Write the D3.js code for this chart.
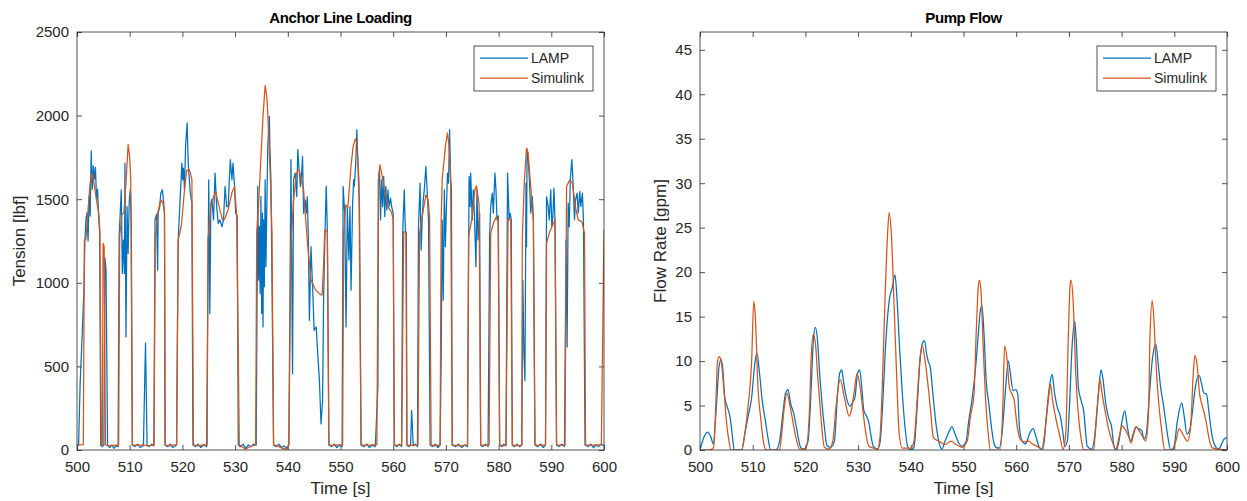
<!DOCTYPE html>
<html>
<head>
<meta charset="utf-8">
<script src="https://cdn.jsdelivr.net/npm/d3@7"></script>
<style>
  html, body { margin: 0; padding: 0; background: #fff; }
  svg { display: block; font-family: "Liberation Sans", Arial, Helvetica, sans-serif; }
</style>
</head>
<body>
<svg id="chart" width="1247" height="501"></svg>
<script>
// ---------- DATA ----------
const xTicks = [500, 510, 520, 530, 540, 550, 560, 570, 580, 590, 600];
const tensionTicks = [0, 500, 1000, 1500, 2000, 2500];
const flowTicks = [0, 5, 10, 15, 20, 25, 30, 35, 40, 45];
const seriesNames = ["LAMP", "Simulink"];

// Anchor line tension [lbf] vs time [s] — [time, value]
const lampTension = [
[500,20],[500.3,30],[500.6,400],[501.0,700],[501.3,950],[501.5,1250],[501.7,1380],[501.9,1420],[502.1,1250],[502.3,1520],[502.5,1400],[502.7,1790],[502.9,1560],[503.1,1700],[503.3,1620],[503.5,1690],[503.7,1500],[503.9,1560],[504.1,1400],[504.3,1300],[504.5,30],[504.8,20],[505.1,30],[505.3,1150],[505.5,1080],[505.8,30],
[506.2,15],[506.6,30],[507.0,10],[507.4,25],[507.8,20],
[508.0,1276],[508.4,1556],[508.6,1056],[508.8,1256],[509.0,1056],[509.1,1716],[509.3,676],[509.5,1456],[509.7,1176],[509.9,1476],[510.1,1556],[510.3,1376],[510.5,30],
[511,20],[511.5,35],[512,15],[512.6,25],[513.0,640],[513.3,30],[513.7,20],[514.2,35],[514.6,25],
[514.8,1376],[515.1,1410],[515.3,1076],[515.4,1416],[515.7,1456],[515.9,1536],[516.2,1556],[516.4,1496],[516.6,1416],[516.7,30],
[517.2,20],[517.7,35],[518.2,15],[518.9,30],
[519.2,1256],[519.5,1456],[519.9,1716],[520.05,1616],[520.2,1686],[520.4,1556],[520.6,1816],[520.9,1956],[521.1,1716],[521.5,1536],[521.8,1476],[522.0,30],
[522.5,20],[523,35],[523.5,15],[524,30],[524.6,20],
[525.0,1616],[525.2,816],[525.4,1476],[525.6,1500],[525.9,1376],[526.2,1656],[526.5,1456],[526.8,1356],[527.1,1376],[527.5,1336],[527.8,1376],[528.1,1576],[528.4,1456],[528.7,1456],[528.9,1616],[529.1,1736],[529.4,1616],[529.6,1716],[529.9,1576],[530.1,1416],[530.4,1400],[530.6,30],
[531,20],[531.5,35],[532,10],[532.5,30],[533,20],[533.5,35],[534.0,30],
[534.3,1576],[534.45,1016],[534.6,1336],[534.75,936],[534.9,1516],[535.05,816],[535.2,1416],[535.3,736],[535.4,1376],[535.55,976],[535.7,1616],[535.85,1096],[536.0,1416],[536.2,1816],[536.5,1996],[536.6,1816],[536.8,1616],[537.0,1016],[537.3,30],
[537.8,20],[538.3,35],[538.8,15],[539.3,25],[539.8,5],[540.2,30],
[540.6,1736],[540.9,456],[541.1,1616],[541.4,1656],[541.7,1516],[541.9,1796],[542.1,1696],[542.4,1576],[542.6,1636],[542.8,1756],[543.0,1416],[543.3,1496],[543.5,1416],[543.7,1516],[543.9,1256],[544.1,776],[544.4,1216],[544.7,976],[545.0,716],[545.4,736],[545.6,616],[546.0,416],[546.3,156],[546.6,296],[546.8,916],[547.1,1356],[547.3,1576],[547.5,1316],[547.8,30],
[548.3,20],[548.8,35],[549.3,15],[549.8,30],[550.3,20],
[550.5,1576],[550.8,1416],[551.05,736],[551.3,1456],[551.6,1136],[551.8,1456],[552.0,956],[552.3,1476],[552.5,1616],[552.6,1576],[552.9,1716],[553.1,1916],[553.4,1616],[553.6,1456],[553.9,30],
[554.4,20],[555,35],[555.5,15],[556,30],[556.6,20],
[557.1,376],[557.2,1616],[557.4,1676],[557.6,1376],[557.8,1616],[558.0,1456],[558.2,1636],[558.4,1396],[558.6,1576],[558.8,1436],[559.0,1556],[559.2,1456],[559.5,1506],[559.7,1456],[560.0,1416],[560.2,30],
[560.7,20],[561.2,35],[561.6,20],
[561.8,1296],[562.1,1556],[562.3,1316],[562.5,1296],[562.6,30],
[563.0,20],[563.3,30],[563.5,236],[563.8,25],[564.2,35],[564.6,20],
[564.8,1336],[565.1,1596],[565.3,1196],[565.5,1376],[565.7,1496],[565.9,1556],[566.2,1696],[566.4,1576],[566.7,1376],[567.0,30],
[567.5,20],[568,35],[568.5,15],[568.9,30],
[569.1,536],[569.2,1016],[569.3,1376],[569.5,896],[569.7,1556],[569.9,1216],[570.1,1456],[570.3,1656],[570.5,1596],[570.7,1916],[570.9,1616],[571.05,1556],[571.2,30],
[571.8,20],[572.4,35],[573,15],[573.6,30],[574.1,20],
[574.4,1636],[574.6,1456],[574.7,1656],[575.0,1376],[575.2,1556],[575.4,1416],[575.7,1096],[575.9,1556],[576.1,1256],[576.4,1416],[576.6,30],
[577,20],[577.5,35],[578,20],
[578.3,1276],[578.5,1456],[578.8,1536],[579.0,1416],[579.3,1656],[579.5,1556],[579.7,1376],[579.95,1400],[580.2,30],
[580.6,20],[581,35],[581.4,25],
[581.7,1656],[582.0,1376],[582.2,1416],[582.4,1380],[582.6,30],
[583,20],[583.5,35],[584,20],[584.4,30],
[584.6,1016],[584.8,576],[585.0,416],[585.2,1596],[585.3,1216],[585.4,1796],[585.6,1756],[585.9,1576],[586.1,1416],[586.4,1516],[586.6,1376],[586.9,30],
[587.4,20],[588,35],[588.5,15],[588.9,30],
[589.1,1516],[589.4,1456],[589.6,1376],[589.9,1556],[590.1,1336],[590.3,1396],[590.5,1566],[590.7,1376],[591.0,30],
[591.5,20],[592,35],[592.5,20],
[592.8,1256],[593.0,616],[593.2,1476],[593.4,1336],[593.6,1616],[593.9,1736],[594.1,1616],[594.4,1376],[594.6,1496],[594.9,1536],[595.1,1416],[595.4,1546],[595.6,1456],[595.9,1536],[596.1,1376],[596.4,30],
[597,20],[597.5,35],[598,15],[598.5,30],[599,20],[599.5,35],[600,25]
];

const simTension = [
[500,30],[501.2,32],[501.4,1256],[501.7,1260],[502.1,1440],[502.5,1600],[502.9,1656],[503.3,1580],[503.7,1496],[504.2,1396],[504.35,1300],[504.6,30],[504.8,30],[504.95,1236],[505.15,1220],[505.4,30],
[506,25],[507,28],[507.9,30],
[508.1,1276],[508.5,1406],[508.9,1420],[509.3,1600],[509.7,1826],[510.0,1750],[510.2,1616],[510.5,30],
[511.5,28],[512.5,30],[513.5,25],[514.6,30],
[514.85,1266],[515.3,1416],[515.9,1496],[516.3,1480],[516.6,1420],[516.75,30],
[517.5,25],[518.3,30],[518.9,30],
[519.2,1256],[519.8,1340],[520.4,1556],[520.8,1670],[521.2,1680],[521.5,1660],[521.8,1616],[522.1,30],
[523,25],[524,30],[524.7,30],
[524.85,1256],[525.4,1466],[526.3,1546],[527.0,1450],[527.6,1376],[528.0,1380],[528.7,1440],[529.4,1540],[529.9,1576],[530.3,1400],[530.8,30],
[531.5,15],[532,5],[532.5,15],[533.9,30],
[534.1,1296],[534.5,1500],[534.9,1750],[535.3,2000],[535.7,2180],[536.0,2120],[536.2,2016],[536.7,1616],[537.0,1300],[537.3,30],
[538,25],[539,10],[539.5,5],[540.2,30],
[540.6,1236],[541.1,1496],[541.6,1640],[541.9,1676],[542.2,1670],[543.0,1556],[543.4,1376],[543.8,1216],[544.4,1016],[545.3,956],[546.0,935],[546.5,926],[546.8,1100],[547.0,1316],[547.5,1306],[547.8,30],
[548.5,28],[549.5,30],[550.4,30],
[550.6,1296],[551.0,1466],[551.4,1450],[552.0,1700],[552.4,1816],[552.8,1860],[553.1,1840],[553.5,1616],[553.9,30],
[555,28],[556,30],[556.9,30],
[557.2,1616],[557.5,1706],[557.9,1640],[558.4,1540],[559.0,1456],[559.7,1420],[560.0,1380],[560.2,30],
[561,28],[561.6,30],
[562.0,1306],[562.4,1300],[562.6,30],
[563.5,28],[564.7,30],
[565.0,1296],[565.6,1416],[566.2,1526],[566.6,1500],[566.9,1400],[567.2,30],
[568,25],[568.9,30],
[569.1,1376],[569.3,1616],[569.9,1816],[570.3,1896],[570.6,1816],[570.9,1616],[571.2,30],
[572.5,25],[574.1,30],
[574.3,1276],[574.9,1376],[575.5,1556],[575.8,1580],[576.3,1470],[576.6,30],
[577.5,28],[578.2,30],
[578.5,1296],[579.0,1356],[579.6,1396],[579.9,1380],[580.2,30],
[581,25],[581.4,30],
[581.8,1386],[582.3,1376],[582.6,30],
[583.5,25],[584.4,30],
[584.5,1276],[584.9,1616],[585.3,1806],[585.6,1776],[586.0,1616],[586.6,1376],[586.9,30],
[588,28],[588.9,30],
[589.1,1236],[589.7,1306],[590.4,1356],[590.7,1376],[591.0,30],
[592,28],[592.6,30],
[592.9,1576],[593.5,1616],[594.0,1596],[594.6,1450],[595.1,1376],[595.8,1366],[596.3,1296],[596.5,30],
[597.5,28],[598.5,30],[599.5,30],[600,1316]
];

// Pump flow rate [gpm] vs time [s] — [time, value]
const lampFlow = [
[500,0],[500.6,1.2],[501.4,2],[502.1,1.4],[502.5,0.7],[503.1,4.8],[503.6,9.3],[504,10.2],[504.3,9.3],[504.7,5.9],[505.2,4.8],[505.7,3.7],[506.1,1.8],[506.5,0],[507.9,0],[508.5,1.8],[509.1,3.7],[509.8,5.9],[510.4,9.7],[510.8,10.9],[511.3,8.6],[511.8,5.6],[512.4,3.3],[513,1],[513.4,0],[514.4,0],[515.1,1],[515.7,4],[516.2,6.3],[516.7,6.8],[517.2,5.2],[517.8,4.1],[518.4,2.2],[519.1,0.3],[519.7,0.1],[520.5,1],[521.1,7],[521.5,12.3],[521.9,13.8],[522.3,12.3],[522.7,8.6],[523.1,5.6],[523.6,2.6],[524.1,0.5],[524.8,0.3],[525.5,1],[526.1,6.3],[526.5,8.6],[526.9,9],[527.2,7.8],[527.9,5.6],[528.5,4.9],[529,5.4],[529.4,5.9],[529.9,8.6],[530.3,9],[530.7,7],[531.1,4.4],[531.6,3.8],[532.1,2.9],[532.4,1.8],[532.9,0.4],[533.7,0.1],[534.2,1],[534.7,5.6],[535.2,11.6],[535.9,16.8],[536.5,18.3],[537,19.7],[537.4,16.8],[537.9,11.2],[538.4,6.3],[538.9,2.6],[539.4,0.4],[540,0],[540.6,0.3],[541.2,4.8],[541.7,9.7],[542.2,12],[542.6,12.3],[543,10.8],[543.3,10],[543.7,9.3],[544.2,6.3],[544.7,3.3],[545.3,1],[545.9,0.1],[546.5,1],[547.2,2],[547.8,2.6],[548.4,1.8],[549,0.9],[549.7,0.4],[550,0.5],[550.5,1],[551,3.3],[551.6,5.6],[552.3,9.3],[552.8,13],[553.2,15.7],[553.5,16.2],[553.9,13],[554.3,7.8],[554.8,5.2],[555.3,2.6],[555.8,0.7],[556.2,0.3],[556.8,0.2],[557.3,1.8],[558,7],[558.5,10],[558.9,8.6],[559.4,6.7],[559.9,6.8],[560.3,6.3],[560.6,2.6],[561.1,1],[561.8,0.7],[562.5,1.8],[563.2,2.4],[563.8,1.4],[564.4,0.3],[565.1,0.1],[565.7,3.7],[566.3,7.1],[566.8,8.5],[567.3,6.3],[567.8,4.8],[568.4,3.7],[568.9,1.8],[569.2,0.4],[569.7,1],[570.1,4.8],[570.6,11.6],[571.1,14.5],[571.4,12.3],[571.8,7],[572.3,5.6],[572.8,4.4],[573.5,0.4],[574.3,0.1],[575.1,2.6],[575.7,7.1],[576.1,9],[576.5,7.8],[577,5.2],[577.5,3.7],[578.1,2.6],[578.6,0.3],[579,0],[579.5,1],[580.1,3.3],[580.6,4.4],[581.1,2.6],[581.7,1],[582.2,1.8],[582.7,2.6],[583.2,2.4],[583.8,2.2],[584.3,1.2],[584.7,1.8],[585.2,5.6],[585.8,10],[586.5,11.9],[587,9.3],[587.4,7.1],[588,4.8],[588.7,1.8],[589.3,0],[589.9,0.3],[590.6,3.3],[591.4,5.3],[591.9,3.7],[592.4,1.8],[592.9,2.2],[593.4,4.1],[594,7.1],[594.7,8.4],[595.2,7.4],[595.6,6.4],[596.1,6.3],[596.6,4.1],[597.1,1.8],[597.7,0.5],[598.4,0.1],[599,0.7],[599.4,1.2],[600,1.4]
];

const simFlow = [
[500,0],[501.6,0],[502.3,0.1],[502.6,0.3],[503.0,5],[503.3,9.8],[503.6,10.5],[504.0,10],[504.6,6.3],[505,3.3],[505.5,1],[505.9,0],[507.9,0],[508.5,1.8],[509.1,4.8],[509.8,10],[510.2,16.7],[510.5,15],[511,7],[511.5,3.7],[512.1,0.7],[512.6,0],[515.1,0],[515.5,1.8],[516,4.8],[516.5,6.4],[517,5.2],[517.6,3.3],[518.2,1.4],[518.9,0.1],[520.1,0.2],[520.8,4.8],[521.1,10.5],[521.5,13],[521.9,12],[522.3,8.6],[522.7,5.6],[523.1,2.6],[523.6,0.3],[524.5,0.1],[525.2,1],[525.8,4.8],[526.6,7.9],[527.4,5.9],[528.3,3.8],[528.7,4.4],[529.2,6.3],[529.8,8.6],[530.4,7],[531,4],[531.6,1.4],[532.1,0.4],[533,0.2],[533.7,0.1],[534.2,1.8],[534.6,7.4],[535.1,16.8],[535.6,24.4],[535.9,26.7],[536.3,24.4],[536.8,16.8],[537.3,8.6],[537.8,1.8],[538.4,0.2],[540,0.2],[540.6,1],[541.2,5.6],[541.7,10],[542.2,11.7],[542.6,10.5],[543.1,8.2],[543.7,4.8],[544.3,1.4],[545.6,0.9],[546.5,0.6],[547.6,1.0],[548.4,0.7],[549.7,0.3],[550.7,1],[551.3,3.7],[552,6.3],[552.4,13],[552.8,18.3],[553,19.1],[553.3,18],[553.7,12.3],[554.2,5.6],[554.7,1.8],[555.1,0],[557,0],[557.5,5.6],[557.8,11.7],[558.3,10],[558.7,7],[559.2,6.3],[559.6,5.6],[560.2,2.6],[560.8,1.2],[561.5,0.9],[562.4,1],[563,0.7],[564,0.4],[564.8,0.1],[565.4,1.8],[566.1,5.6],[566.5,7.4],[566.9,5.6],[567.6,3.3],[568.2,1.8],[568.9,0.1],[569.4,1.8],[569.9,13],[570.2,18.3],[570.4,19.1],[570.8,16.8],[571.3,8.6],[571.9,3.3],[572.4,1],[572.8,0],[574.7,0],[575.2,3.7],[575.6,6.3],[575.9,7.9],[576.3,6.3],[577,4],[577.6,2.2],[578.2,1],[578.9,0.1],[579.5,1.4],[580.1,2.7],[580.8,2.2],[581.4,1.4],[581.8,0.8],[582.3,1.8],[582.8,2.6],[583.3,2.2],[583.9,1.6],[584.6,1],[585.1,4.1],[585.4,13],[585.8,16.8],[586.1,15],[586.5,10],[587,5.6],[587.6,2.2],[588.2,0],[589.6,0],[590.3,1],[590.9,2.4],[591.6,1.8],[592.5,1],[593.1,2.6],[593.6,8.6],[593.9,10.6],[594.3,9.7],[594.8,6.3],[595.4,4.8],[596,3.3],[596.7,1],[597.3,0.2],[598.5,0.1],[600,0]
];

// ---------- DRAWING ----------
const svg = d3.select("#chart");
const colors = { LAMP: "#0072BD", Simulink: "#D95319" };
const textColor = "#262626";
const axisColor = "#262626";

function panel(opts) {
  const { left, right, top, bottom, yMax, yTicks, title, ylabel, ylabelX, series, curve, id } = opts;
  const x = d3.scaleLinear().domain([500, 600]).range([left, right]);
  const y = d3.scaleLinear().domain([0, yMax]).range([bottom, top]);
  const g = svg.append("g");

  g.append("clipPath").attr("id", id).append("rect")
    .attr("x", left).attr("y", top).attr("width", right - left).attr("height", bottom - top);

  // axes
  const styleAxis = (sel, showLabels) => {
    sel.select(".domain").remove();
    sel.selectAll(".tick line").attr("stroke", axisColor).attr("stroke-width", 0.8);
    sel.selectAll(".tick text").attr("fill", textColor)
      .style("font-size", "15px")
      .style("font-family", "'Liberation Sans', Arial, Helvetica, sans-serif");
    if (!showLabels) sel.selectAll(".tick text").remove();
  };
  g.append("g").attr("transform", `translate(0,${bottom})`)
    .call(d3.axisBottom(x).tickValues(xTicks).tickSizeInner(-5).tickSizeOuter(0).tickPadding(11).tickFormat(d3.format("d")))
    .call(s => styleAxis(s, true));
  g.append("g").attr("transform", `translate(0,${top})`)
    .call(d3.axisTop(x).tickValues(xTicks).tickSizeInner(-5).tickSizeOuter(0))
    .call(s => styleAxis(s, false));
  g.append("g").attr("transform", `translate(${left},0)`)
    .call(d3.axisLeft(y).tickValues(yTicks).tickSizeInner(-5).tickSizeOuter(0).tickPadding(8).tickFormat(d3.format("d")))
    .call(s => styleAxis(s, true));
  g.append("g").attr("transform", `translate(${right},0)`)
    .call(d3.axisRight(y).tickValues(yTicks).tickSizeInner(-5).tickSizeOuter(0))
    .call(s => styleAxis(s, false));

  // lines
  const line = d3.line().x(d => x(d[0])).y(d => y(d[1])).curve(curve);
  const lg = g.append("g").attr("clip-path", `url(#${id})`);
  series.forEach(s => {
    lg.append("path").datum(s.data)
      .attr("fill", "none")
      .attr("stroke", colors[s.name])
      .attr("stroke-width", 1.25)
      .attr("stroke-linejoin", "round")
      .attr("d", line);
  });

  // box
  g.append("rect").attr("x", left).attr("y", top)
    .attr("width", right - left).attr("height", bottom - top)
    .attr("fill", "none").attr("stroke", axisColor).attr("stroke-width", 0.8);

  // title
  g.append("text").attr("x", (left + right) / 2).attr("y", 23)
    .attr("text-anchor", "middle").attr("fill", "#000")
    .style("font-size", "15px").style("font-weight", "bold").style("letter-spacing", "-0.4px")
    .text(title);

  // x label
  g.append("text").attr("x", (left + right) / 2).attr("y", 494)
    .attr("text-anchor", "middle").attr("fill", textColor)
    .style("font-size", "17px").text("Time [s]");

  // y label
  g.append("text").attr("transform", `translate(${ylabelX},${(top + bottom) / 2}) rotate(-90)`)
    .attr("text-anchor", "middle").attr("fill", textColor)
    .style("font-size", "17px").text(ylabel);

  // legend
  const lw = 119, lh = 45;
  const lx = right - 11 - lw, ly = top + 14;
  const leg = g.append("g");
  leg.append("rect").attr("x", lx).attr("y", ly).attr("width", lw).attr("height", lh)
    .attr("fill", "#fff").attr("stroke", axisColor).attr("stroke-width", 0.8);
  seriesNames.forEach((name, i) => {
    const cy = ly + 12 + i * 20;
    leg.append("line").attr("x1", lx + 6).attr("x2", lx + 54).attr("y1", cy).attr("y2", cy)
      .attr("stroke", colors[name]).attr("stroke-width", 1.25);
    leg.append("text").attr("x", lx + 57).attr("y", cy + 5)
      .attr("fill", textColor).style("font-size", "14px").text(name);
  });
}

panel({
  id: "clipL", left: 77, right: 604, top: 32, bottom: 450,
  yMax: 2500, yTicks: tensionTicks,
  title: "Anchor Line Loading", ylabel: "Tension [lbf]", ylabelX: 25,
  series: [{ name: "LAMP", data: lampTension }, { name: "Simulink", data: simTension }],
  curve: d3.curveLinear
});

panel({
  id: "clipR", left: 700, right: 1227, top: 32, bottom: 450,
  yMax: 47, yTicks: flowTicks,
  title: "Pump Flow", ylabel: "Flow Rate [gpm]", ylabelX: 666,
  series: [{ name: "LAMP", data: lampFlow }, { name: "Simulink", data: simFlow }],
  curve: d3.curveMonotoneX
});
</script>
</body>
</html>
